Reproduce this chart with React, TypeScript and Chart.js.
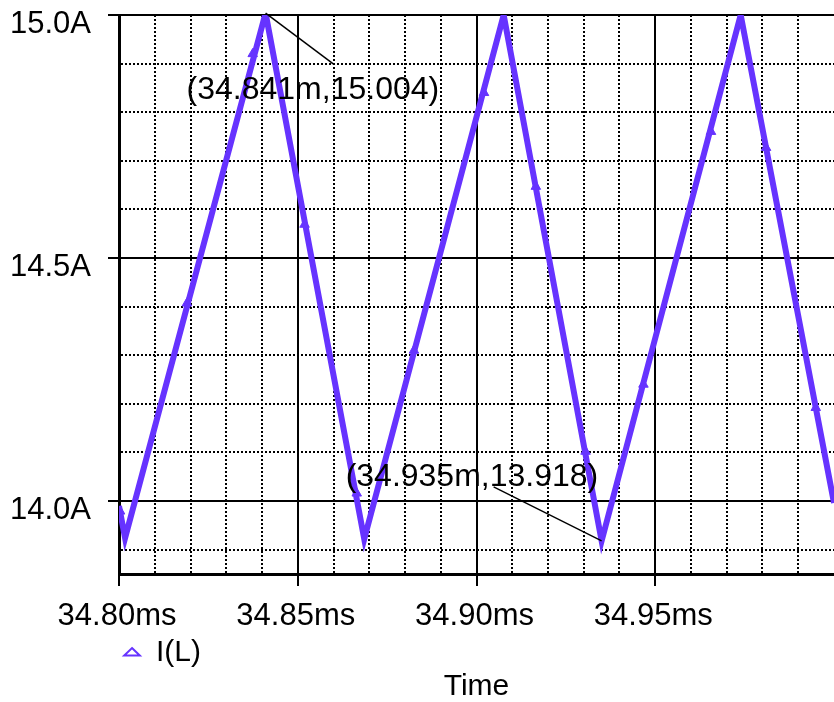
import React, { useEffect, useRef } from 'react';
import { Chart, registerables } from 'chart.js';

Chart.register(...registerables);

// ---- data ----
const seriesName = 'I(L)';
const waveTimes = [34.8, 34.8017, 34.841, 34.8686, 34.9076, 34.935, 34.9739, 35.0];
const waveValues = [13.99, 13.924, 15.004, 13.922, 15.0, 13.918, 15.0, 13.996];

const markerTimes = [34.8003, 34.819, 34.8374, 34.8519, 34.8665, 34.8825, 34.9021, 34.9166, 34.9305, 34.9467, 34.9656, 34.981, 34.9949];
const markerValues = [13.979, 14.407, 14.92, 14.569, 14.016, 14.31, 14.84, 14.647, 14.102, 14.24, 14.76, 14.727, 14.192];

const xGridTimes = [34.8, 34.81, 34.82, 34.83, 34.84, 34.85, 34.86, 34.87, 34.88, 34.89, 34.9, 34.91, 34.92, 34.93, 34.94, 34.95, 34.96, 34.97, 34.98, 34.99];
const xLabelTimes = [34.8, 34.85, 34.9, 34.95];
const yGridValues = [13.9, 14.0, 14.1, 14.2, 14.3, 14.4, 14.5, 14.6, 14.7, 14.8, 14.9, 15.0];
const yLabelValues = [14.0, 14.5, 15.0];

const cursorTimes = [34.841, 34.935];
const cursorValues = [15.004, 13.918];

const xMin = 34.8;
const xMax = 35.0;
const yMin = 13.85;
const yMax = 15.0;
const xTitle = 'Time';

const PURPLE = '#6633ff';
const FONT = "'Liberation Sans', Arial, sans-serif";

const near = (a: number, list: number[]) => list.some((b) => Math.abs(a - b) < 1e-6);

const cursorPlugin = {
  id: 'cursorLabels',
  afterDatasetsDraw(chart: any) {
    const { ctx } = chart;
    const xs = chart.scales.x;
    const ys = chart.scales.y;
    const offsets = [
      { lx: 68, ly: 51, tx: -79, ty: 77 },
      { lx: -108, ly: -54, tx: -256, ty: -64 },
    ];
    ctx.save();
    cursorTimes.forEach((t, i) => {
      const v = cursorValues[i];
      const px = xs.getPixelForValue(t);
      const py = ys.getPixelForValue(v);
      const o = offsets[i];
      ctx.strokeStyle = '#000';
      ctx.lineWidth = 1.5;
      ctx.beginPath();
      ctx.moveTo(px, py);
      ctx.lineTo(px + o.lx, py + o.ly);
      ctx.stroke();
      ctx.fillStyle = '#000';
      ctx.font = `32px ${FONT}`;
      ctx.textAlign = 'left';
      ctx.textBaseline = 'middle';
      ctx.fillText(`(${t.toFixed(3)}m,${v.toFixed(3)})`, px + o.tx, py + o.ty);
    });
    ctx.restore();
  },
};

export default function App() {
  const ref = useRef<HTMLCanvasElement | null>(null);

  useEffect(() => {
    if (!ref.current) return;
    const chart = new Chart(ref.current, {
      type: 'line',
      data: {
        datasets: [
          {
            label: seriesName,
            data: waveTimes.map((t, i) => ({ x: t, y: waveValues[i] })),
            borderColor: PURPLE,
            backgroundColor: PURPLE,
            borderWidth: 6,
            pointRadius: 0,
            tension: 0,
            fill: false,
          },
          {
            label: 'markers',
            data: markerTimes.map((t, i) => ({ x: t, y: markerValues[i] })),
            showLine: false,
            pointStyle: 'triangle',
            pointRadius: 5.5,
            pointBackgroundColor: PURPLE,
            pointBorderColor: PURPLE,
            pointBorderWidth: 1,
          },
        ],
      },
      options: {
        animation: false,
        responsive: false,
        devicePixelRatio: 1,
        layout: { autoPadding: false, padding: { top: 15, right: 0, left: 0, bottom: 0 } },
        scales: {
          x: {
            type: 'linear',
            min: xMin,
            max: xMax,
            afterBuildTicks: (scale: any) => {
              scale.ticks = xGridTimes.map((v) => ({ value: v }));
            },
            afterFit: (scale: any) => {
              scale.height = 60;
              scale.paddingLeft = 0;
              scale.paddingRight = 0;
            },
            ticks: {
              autoSkip: false,
              maxRotation: 0,
              minRotation: 0,
              padding: 15,
              labelOffset: -2,
              color: '#000',
              font: { family: FONT, size: 31, lineHeight: 1 },
              callback: (value: any) => (near(Number(value), xLabelTimes) ? Number(value).toFixed(2) + 'ms' : ''),
            },
            grid: {
              color: '#000',
              lineWidth: 2,
              tickLength: 12,
              tickWidth: 2,
              tickColor: (ctx: any) => (ctx.tick && near(ctx.tick.value, xLabelTimes) ? '#000' : 'rgba(0,0,0,0)'),
            },
            border: {
              display: true,
              color: '#000',
              width: 3,
              dash: (ctx: any) => (ctx.tick && !near(ctx.tick.value, xLabelTimes) ? [2, 2] : []),
            },
          },
          y: {
            type: 'linear',
            min: yMin,
            max: yMax,
            afterBuildTicks: (scale: any) => {
              scale.ticks = yGridValues.map((v) => ({ value: v }));
            },
            afterFit: (scale: any) => {
              scale.width = 119;
              scale.paddingTop = 0;
              scale.paddingBottom = 0;
            },
            ticks: {
              autoSkip: false,
              padding: 17,
              labelOffset: 9,
              color: '#000',
              font: { family: FONT, size: 31, lineHeight: 1 },
              callback: (value: any) => (near(Number(value), yLabelValues) ? Number(value).toFixed(1) + 'A' : ''),
            },
            grid: {
              color: '#000',
              lineWidth: 2,
              tickLength: 11,
              tickWidth: 2,
              tickColor: (ctx: any) => (ctx.tick && near(ctx.tick.value, yLabelValues) ? '#000' : 'rgba(0,0,0,0)'),
            },
            border: {
              display: true,
              color: '#000',
              width: 3,
              dash: (ctx: any) => (ctx.tick && !near(ctx.tick.value, yLabelValues) ? [2, 2] : []),
            },
          },
        },
        plugins: {
          tooltip: { enabled: false },
          legend: {
            display: true,
            position: 'bottom',
            align: 'start',
            fullSize: false,
            maxHeight: 38,
            labels: {
              usePointStyle: true,
              boxHeight: 7,
              pointStyleWidth: 18,
              padding: 4,
              color: '#000',
              font: { family: FONT, size: 30, lineHeight: 1 },
              generateLabels: () => [
                {
                  text: seriesName,
                  fillStyle: '#ffffff',
                  strokeStyle: PURPLE,
                  lineWidth: 2,
                  pointStyle: 'triangle',
                  hidden: false,
                  datasetIndex: 0,
                  fontColor: '#000',
                },
              ],
            },
          },
          title: {
            display: true,
            text: xTitle,
            position: 'bottom',
            fullSize: false,
            color: '#000',
            padding: 0,
            font: { family: FONT, size: 30, weight: 'normal', lineHeight: 1 },
          },
        },
      },
      plugins: [cursorPlugin],
    } as any);
    return () => chart.destroy();
  }, []);

  return (
    <div style={{ position: 'absolute', left: 0, top: 0, width: 834, height: 702, background: '#fff' }}>
      <canvas ref={ref} width={834} height={702} />
    </div>
  );
}
